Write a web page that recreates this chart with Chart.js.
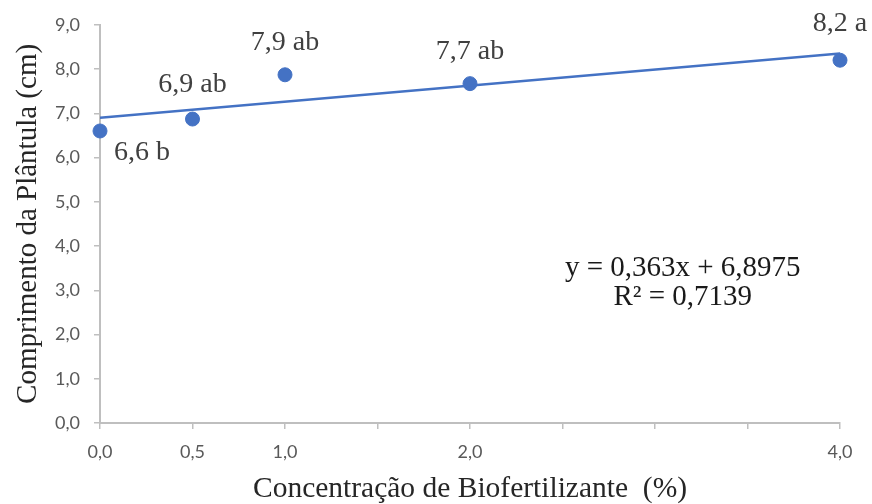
<!DOCTYPE html>
<html>
<head>
<meta charset="utf-8">
<script src="https://cdn.jsdelivr.net/npm/chart.js@4.4.1/dist/chart.umd.min.js"></script>
<style>
  body { margin: 0; background: #fff; }
  #wrap { width: 872px; height: 504px; }
</style>
</head>
<body>
<div id="wrap"><canvas id="myChart" width="872" height="504"></canvas></div>
<script>
// data
const concentrations = [0, 0.5, 1, 2, 4];
const lengths = [6.6, 6.87, 7.87, 7.67, 8.2];
const pointLabels = ['6,6 b', '6,9 ab', '7,9 ab', '7,7 ab', '8,2 a'];
const trendX = [0, 4];
const trendY = [6.8975, 8.3495];
const xTickLabels = [0, 0.5, 1, 2, 4];
const equationLines = ['y = 0,363x + 6,8975', 'R\u00b2 = 0,7139'];

const blue = '#4472C4';
const tickGray = '#595959';
const axisGray = '#BFBFBF';
const serif = '"Liberation Serif", "Times New Roman", serif';

// label offsets in px from each point (dx, dy)
const labelOffsets = [[42, 22], [0, -34], [0, -32], [0, -32], [0, -37]];

const fmt = v => v.toFixed(1).replace('.', ',');

// draws point labels and regression text
const textPlugin = {
    id: 'textPlugin',
    afterDatasetsDraw(chart) {
        const ctx = chart.ctx;
        const meta = chart.getDatasetMeta(1);
        ctx.save();
        ctx.font = '28px ' + serif;
        ctx.fillStyle = '#404040';
        ctx.textAlign = 'center';
        ctx.textBaseline = 'middle';
        meta.data.forEach((pt, i) => {
            ctx.fillText(pointLabels[i], pt.x + labelOffsets[i][0], pt.y + labelOffsets[i][1]);
        });
        // equation
        const xs = chart.scales.x, ys = chart.scales.y;
        ctx.font = '29px ' + serif;
        ctx.fillStyle = '#1a1a1a';
        ctx.fillText(equationLines[0], xs.getPixelForValue(3.15), ys.getPixelForValue(3.49));
        ctx.fillText(equationLines[1], xs.getPixelForValue(3.15), ys.getPixelForValue(2.84));
        ctx.restore();
    }
};

const ctx = document.getElementById('myChart').getContext('2d');
new Chart(ctx, {
    type: 'scatter',
    data: {
        datasets: [{
            type: 'line',
            data: trendX.map((x, i) => ({ x: x, y: trendY[i] })),
            borderColor: blue,
            borderWidth: 2.5,
            pointRadius: 0,
            fill: false
        }, {
            data: concentrations.map((x, i) => ({ x: x, y: lengths[i] })),
            backgroundColor: blue,
            borderColor: blue,
            pointRadius: 7,
            pointHoverRadius: 7,
            clip: false
        }]
    },
    options: {
        responsive: false,
        animation: false,
        events: [],
        layout: {
            padding: { top: 23, right: 32, left: 0, bottom: 0 }
        },
        plugins: {
            legend: { display: false },
            tooltip: { enabled: false }
        },
        scales: {
            x: {
                type: 'linear',
                min: 0,
                max: 4,
                afterFit: s => { s.height = 81; },
                afterBuildTicks: s => {
                    s.ticks = [0, 0.5, 1, 1.5, 2, 2.5, 3, 3.5, 4].map(v => ({ value: v }));
                },
                ticks: {
                    autoSkip: false,
                    maxRotation: 0,
                    color: tickGray,
                    font: { family: 'Lato', size: 18 },
                    padding: 12,
                    callback: v => xTickLabels.includes(v) ? fmt(v) : ''
                },
                grid: {
                    drawOnChartArea: false,
                    drawTicks: true,
                    tickLength: 6,
                    color: axisGray,
                    lineWidth: 1.5
                },
                border: { color: axisGray, width: 2 },
                title: {
                    display: true,
                    text: 'Concentração de Biofertilizante  (%)',
                    color: '#262626',
                    font: { family: serif, size: 29.5, lineHeight: 1.0 },
                    padding: { top: 0, bottom: 0 }
                }
            },
            y: {
                min: 0,
                max: 9,
                afterFit: s => { s.width = 100; },
                ticks: {
                    stepSize: 1,
                    color: tickGray,
                    font: { family: 'Lato', size: 18 },
                    padding: 14,
                    callback: v => fmt(v)
                },
                grid: {
                    drawOnChartArea: false,
                    drawTicks: true,
                    tickLength: 6,
                    color: axisGray,
                    lineWidth: 1.5
                },
                border: { color: axisGray, width: 2 },
                title: {
                    display: true,
                    text: 'Comprimento da Plântula (cm)',
                    color: '#262626',
                    font: { family: serif, size: 29, lineHeight: 1.1 },
                    padding: { top: 12, bottom: 0 }
                }
            }
        }
    },
    plugins: [textPlugin]
});
</script>
</body>
</html>
